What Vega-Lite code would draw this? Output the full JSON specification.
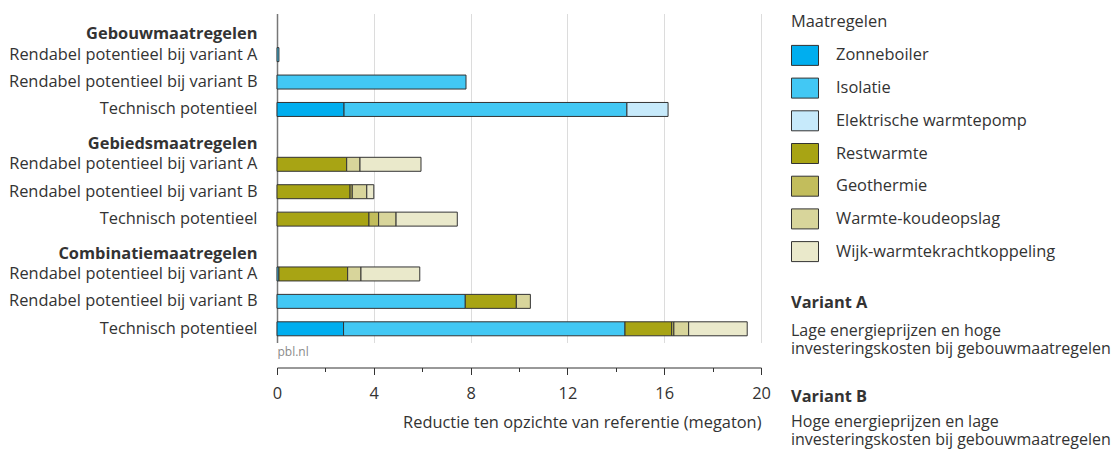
{
  "$schema": "https://vega.github.io/schema/vega-lite/v6.json",
  "width": 484,
  "height": 329,
  "padding": {"left": 8, "top": 13.5, "right": 0, "bottom": 0},
  "config": {
    "view": {"stroke": null},
    "font": "Open Sans",
    "axis": {"labelColor": "#333", "titleColor": "#333"},
    "legend": {"labelColor": "#333", "titleColor": "#333"}
  },
  "datasets": {
    "bars": [
      {"row": "02|Rendabel potentieel bij variant A", "maatregel": "Isolatie", "nr": 2, "value": 0.08},
      {"row": "03|Rendabel potentieel bij variant B", "maatregel": "Isolatie", "nr": 2, "value": 7.81},
      {"row": "04|Technisch potentieel", "maatregel": "Zonneboiler", "nr": 1, "value": 2.77},
      {"row": "04|Technisch potentieel", "maatregel": "Isolatie", "nr": 2, "value": 11.69},
      {"row": "04|Technisch potentieel", "maatregel": "Elektrische warmtepomp", "nr": 3, "value": 1.7},
      {"row": "06|Rendabel potentieel bij variant A", "maatregel": "Restwarmte", "nr": 4, "value": 2.88},
      {"row": "06|Rendabel potentieel bij variant A", "maatregel": "Warmte-koudeopslag", "nr": 6, "value": 0.55},
      {"row": "06|Rendabel potentieel bij variant A", "maatregel": "Wijk-warmtekrachtkoppeling", "nr": 7, "value": 2.52},
      {"row": "07|Rendabel potentieel bij variant B", "maatregel": "Restwarmte", "nr": 4, "value": 3.02},
      {"row": "07|Rendabel potentieel bij variant B", "maatregel": "Geothermie", "nr": 5, "value": 0.09},
      {"row": "07|Rendabel potentieel bij variant B", "maatregel": "Warmte-koudeopslag", "nr": 6, "value": 0.6},
      {"row": "07|Rendabel potentieel bij variant B", "maatregel": "Wijk-warmtekrachtkoppeling", "nr": 7, "value": 0.29},
      {"row": "08|Technisch potentieel", "maatregel": "Restwarmte", "nr": 4, "value": 3.8},
      {"row": "08|Technisch potentieel", "maatregel": "Geothermie", "nr": 5, "value": 0.4},
      {"row": "08|Technisch potentieel", "maatregel": "Warmte-koudeopslag", "nr": 6, "value": 0.72},
      {"row": "08|Technisch potentieel", "maatregel": "Wijk-warmtekrachtkoppeling", "nr": 7, "value": 2.53},
      {"row": "10|Rendabel potentieel bij variant A", "maatregel": "Isolatie", "nr": 2, "value": 0.08},
      {"row": "10|Rendabel potentieel bij variant A", "maatregel": "Restwarmte", "nr": 4, "value": 2.84},
      {"row": "10|Rendabel potentieel bij variant A", "maatregel": "Warmte-koudeopslag", "nr": 6, "value": 0.55},
      {"row": "10|Rendabel potentieel bij variant A", "maatregel": "Wijk-warmtekrachtkoppeling", "nr": 7, "value": 2.43},
      {"row": "11|Rendabel potentieel bij variant B", "maatregel": "Isolatie", "nr": 2, "value": 7.78},
      {"row": "11|Rendabel potentieel bij variant B", "maatregel": "Restwarmte", "nr": 4, "value": 2.11},
      {"row": "11|Rendabel potentieel bij variant B", "maatregel": "Warmte-koudeopslag", "nr": 6, "value": 0.58},
      {"row": "12|Technisch potentieel", "maatregel": "Zonneboiler", "nr": 1, "value": 2.75},
      {"row": "12|Technisch potentieel", "maatregel": "Isolatie", "nr": 2, "value": 11.63},
      {"row": "12|Technisch potentieel", "maatregel": "Restwarmte", "nr": 4, "value": 1.93},
      {"row": "12|Technisch potentieel", "maatregel": "Geothermie", "nr": 5, "value": 0.09},
      {"row": "12|Technisch potentieel", "maatregel": "Warmte-koudeopslag", "nr": 6, "value": 0.61},
      {"row": "12|Technisch potentieel", "maatregel": "Wijk-warmtekrachtkoppeling", "nr": 7, "value": 2.42}
    ]
  },
  "layer": [
    {
      "data": {"name": "bars"},
      "mark": {"type": "bar", "stroke": "#333", "strokeWidth": 1},
      "encoding": {
        "y": {
          "field": "row",
          "type": "nominal",
          "title": null,
          "scale": {
            "domain": [
              "01|Gebouwmaatregelen",
              "02|Rendabel potentieel bij variant A",
              "03|Rendabel potentieel bij variant B",
              "04|Technisch potentieel",
              "05|Gebiedsmaatregelen",
              "06|Rendabel potentieel bij variant A",
              "07|Rendabel potentieel bij variant B",
              "08|Technisch potentieel",
              "09|Combinatiemaatregelen",
              "10|Rendabel potentieel bij variant A",
              "11|Rendabel potentieel bij variant B",
              "12|Technisch potentieel"
            ],
            "paddingInner": 0.49,
            "paddingOuter": 0.245
          },
          "axis": {
            "domain": true,
            "domainColor": "#777",
            "domainWidth": 1.5,
            "ticks": false,
            "tickSize": 0,
            "grid": false,
            "labelExpr": "split(datum.value, '|')[1]",
            "labelFontSize": 16.4,
            "labelPadding": 20,
            "labelLimit": 400,
            "labelFontWeight": {"condition": {"test": "test(/maatregelen$/, datum.value)", "value": "bold"}, "value": "normal"},
            "labelOffset": {"condition": {"test": "test(/maatregelen$/, datum.value)", "value": 7}, "value": 0}
          }
        },
        "x": {
          "field": "value",
          "type": "quantitative",
          "stack": "zero",
          "scale": {"domain": [0, 20], "nice": false},
          "axis": {
            "orient": "bottom",
            "values": [4, 8, 12, 16, 20],
            "grid": true,
            "gridColor": "#dcdcdc",
            "gridWidth": 1,
            "domain": false,
            "ticks": false,
            "labels": false,
            "title": "pbl.nl",
            "titleAnchor": "start",
            "titleFontSize": 12,
            "titleColor": "#8a8a8a",
            "titleFontWeight": "normal",
            "titlePadding": 4
          }
        },
        "color": {
          "field": "maatregel",
          "type": "nominal",
          "scale": {
            "domain": ["Zonneboiler", "Isolatie", "Elektrische warmtepomp", "Restwarmte", "Geothermie", "Warmte-koudeopslag", "Wijk-warmtekrachtkoppeling"],
            "range": ["#00aeef", "#42c8f4", "#c7eafb", "#a8a414", "#c2bd5c", "#d8d59b", "#eae9cb"]
          },
          "legend": {
            "title": "Maatregelen",
            "titleFontWeight": "normal",
            "titleFontSize": 16.4,
            "titlePadding": 15,
            "labelFontSize": 16.4,
            "labelLimit": 400,
            "symbolType": "M-1,-1H1.7V1H-1Z",
            "symbolSize": 400,
            "symbolStrokeColor": "#333",
            "symbolStrokeWidth": 1,
            "symbolOpacity": 1,
            "rowPadding": 7.7,
            "labelOffset": 24,
            "offset": 30,
            "padding": 0
          }
        },
        "order": {"field": "nr", "type": "quantitative"}
      }
    },
    {
      "data": {"name": "bars"},
      "mark": {"type": "bar", "opacity": 0},
      "encoding": {
        "y": {"field": "row", "type": "nominal"},
        "x": {
          "aggregate": "sum",
          "field": "value",
          "type": "quantitative",
          "axis": {
            "orient": "bottom",
            "offset": 25,
            "values": [0, 2, 4, 6, 8, 10, 12, 14, 16, 18, 20],
            "grid": false,
            "domain": true,
            "domainColor": "#333",
            "tickColor": "#333",
            "tickSize": {"condition": {"test": "datum.value % 4 === 0", "value": 7}, "value": 4},
            "labelExpr": "datum.value % 4 === 0 ? datum.label : ''",
            "labelFontSize": 16.4,
            "labelPadding": 11,
            "labelFlush": false,
            "title": "Reductie ten opzichte van referentie (megaton)",
            "titleAnchor": "end",
            "titleFontWeight": "normal",
            "titleFontSize": 16.4,
            "titlePadding": 13
          }
        }
      }
    },
    {
      "data": {"values": [{"a": "Lage energieprijzen en hoge"}, {"a": "investeringskosten bij gebouwmaatregelen"}]},
      "mark": {"type": "point", "opacity": 0},
      "encoding": {
        "shape": {
          "field": "a",
          "type": "nominal",
          "sort": null,
          "legend": {
            "title": ["", "Variant A"],
            "titleLineHeight": 22,
            "titleFontWeight": "bold",
            "titleFontSize": 16.4,
            "titlePadding": 12,
            "labelFontSize": 16,
            "labelOffset": -16,
            "symbolSize": 0,
            "symbolOpacity": 0,
            "symbolStrokeWidth": 0,
            "rowPadding": 2,
            "labelLimit": 400,
            "offset": 30,
            "padding": 0
          }
        }
      }
    },
    {
      "data": {"values": [{"b": "Hoge energieprijzen en lage"}, {"b": "investeringskosten bij gebouwmaatregelen"}]},
      "mark": {"type": "point", "opacity": 0},
      "encoding": {
        "shape": {
          "field": "b",
          "type": "nominal",
          "sort": null,
          "legend": {
            "title": ["", "Variant B"],
            "titleLineHeight": 23,
            "titleFontWeight": "bold",
            "titleFontSize": 16.4,
            "titlePadding": 9,
            "labelFontSize": 16,
            "labelOffset": -16,
            "symbolSize": 0,
            "symbolOpacity": 0,
            "symbolStrokeWidth": 0,
            "rowPadding": 2,
            "labelLimit": 400,
            "offset": 30,
            "padding": 0
          }
        }
      }
    }
  ],
  "resolve": {
    "axis": {"x": "independent"},
    "scale": {"shape": "independent"},
    "legend": {"shape": "independent"}
  }
}
